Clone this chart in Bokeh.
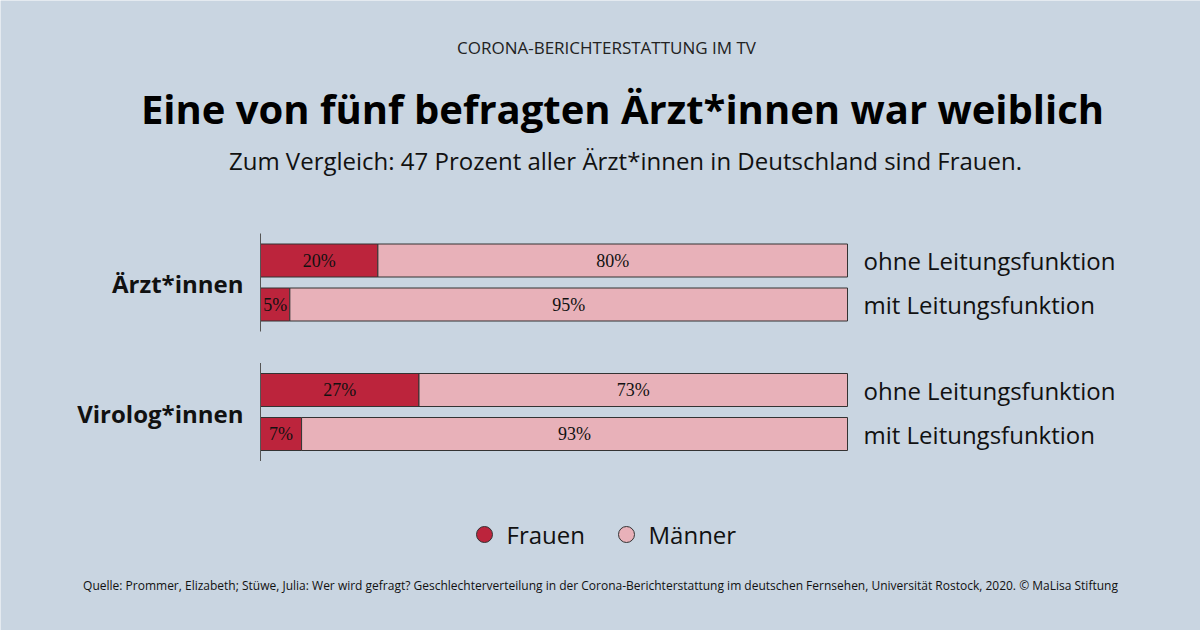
from bokeh.plotting import figure
from bokeh.models import Range1d
from bokeh.core.properties import value
from bokeh.embed import file_html
from bokeh.resources import INLINE

# ---- data ----
groups = ["Ärzt*innen", "Virolog*innen"]
rows = ["ohne Leitungsfunktion", "mit Leitungsfunktion",
        "ohne Leitungsfunktion", "mit Leitungsfunktion"]
row_group = [0, 0, 1, 1]
frauen = [20, 5, 27, 7]
maenner = [80, 95, 73, 93]
frauen_labels = ["20%", "5%", "27%", "7%"]
maenner_labels = ["80%", "95%", "73%", "93%"]
series = ["Frauen", "Männer"]

header = "CORONA-BERICHTERSTATTUNG IM TV"
title = "Eine von fünf befragten Ärzt*innen war weiblich"
subtitle = "Zum Vergleich: 47 Prozent aller Ärzt*innen in Deutschland sind Frauen."
source = ("Quelle: Prommer, Elizabeth; Stüwe, Julia: Wer wird gefragt? Geschlechterverteilung in der "
          "Corona-Berichterstattung im deutschen Fernsehen, Universität Rostock, 2020. © MaLisa Stiftung")

# ---- styles ----
BG = "#c9d5e1"
C_F = "#bc243c"
C_M = "#e8b1b9"
FONT = "Open Sans"
W, H = 1200, 630
X0 = 260          # pixel of 0 %
PX_PER = 5.87     # pixels per percent

def X(px):
    return (px - X0) / PX_PER

p = figure(width=W, height=H, output_backend="svg", toolbar_location=None,
           x_range=Range1d(X(0), X(W)), y_range=Range1d(H, 0),
           min_border=0, background_fill_color=BG, border_fill_color=BG)
p.axis.visible = False
p.grid.visible = False
p.outline_line_color = None

# row layout
row_y = [260, 304, 389.5, 433.5]
bar_h = 33

total = [f + m for f, m in zip(frauen, maenner)]
p.hbar(y=row_y, left=0, right=frauen, height=bar_h, fill_color=C_F,
       line_color="#333333", line_width=1)
p.hbar(y=row_y, left=frauen, right=total, height=bar_h, fill_color=C_M,
       line_color="#333333", line_width=1)

# axis lines per group
for g in range(len(groups)):
    ys = [row_y[i] for i in range(len(rows)) if row_group[i] == g]
    p.segment(x0=0, x1=0, y0=min(ys) - 27, y1=max(ys) + 27,
              line_color="#555555", line_width=1)

# bar value labels
p.text(x=[f / 2 for f in frauen], y=row_y, text=frauen_labels,
       text_font=value("Liberation Serif"), text_font_size="18px",
       text_align="center", text_baseline="middle", text_color="#111111")
p.text(x=[f + m / 2 for f, m in zip(frauen, maenner)], y=row_y, text=maenner_labels,
       text_font=value("Liberation Serif"), text_font_size="18px",
       text_align="center", text_baseline="middle", text_color="#111111")

# row labels (right of bars)
p.text(x=[X(863)] * len(rows), y=row_y, text=rows,
       text_font=value(FONT), text_font_size="24px",
       text_align="left", text_baseline="middle", text_color="#111111")

# group labels
group_y = []
for g in range(len(groups)):
    ys = [row_y[i] for i in range(len(rows)) if row_group[i] == g]
    group_y.append(sum(ys) / len(ys))
p.text(x=[X(243)] * len(groups), y=[y + 1 for y in group_y], text=groups,
       text_font=value(FONT), text_font_size="24px", text_font_style="bold",
       text_align="right", text_baseline="middle", text_color="#111111")

# titles
p.text(x=[X(606)], y=[47], text=[header], text_font=value(FONT), text_font_size="17px",
       text_align="center", text_baseline="middle", text_color="#222222")
p.text(x=[X(622)], y=[108], text=[title], text_font=value(FONT), text_font_size="40px",
       text_font_style="bold", text_align="center", text_baseline="middle", text_color="#000000")
p.text(x=[X(625)], y=[160], text=[subtitle], text_font=value(FONT), text_font_size="24px",
       text_align="center", text_baseline="middle", text_color="#111111")

# legend
leg_x = [X(484), X(626)]
p.scatter(x=leg_x, y=[534, 534], size=16, fill_color=[C_F, C_M],
          line_color="#333333", line_width=1)
p.text(x=[X(506), X(648)], y=[534, 534], text=series, text_font=value(FONT),
       text_font_size="24px", text_align="left", text_baseline="middle", text_color="#111111")

# source
p.text(x=[X(600)], y=[585], text=[source], text_font=value(FONT), text_font_size="12px",
       text_align="center", text_baseline="middle", text_color="#111111")

html = file_html(p, INLINE)
html = html.replace("<body>", '<body style="background-color:%s;">' % BG, 1)
open("out.html", "w").write(html)
